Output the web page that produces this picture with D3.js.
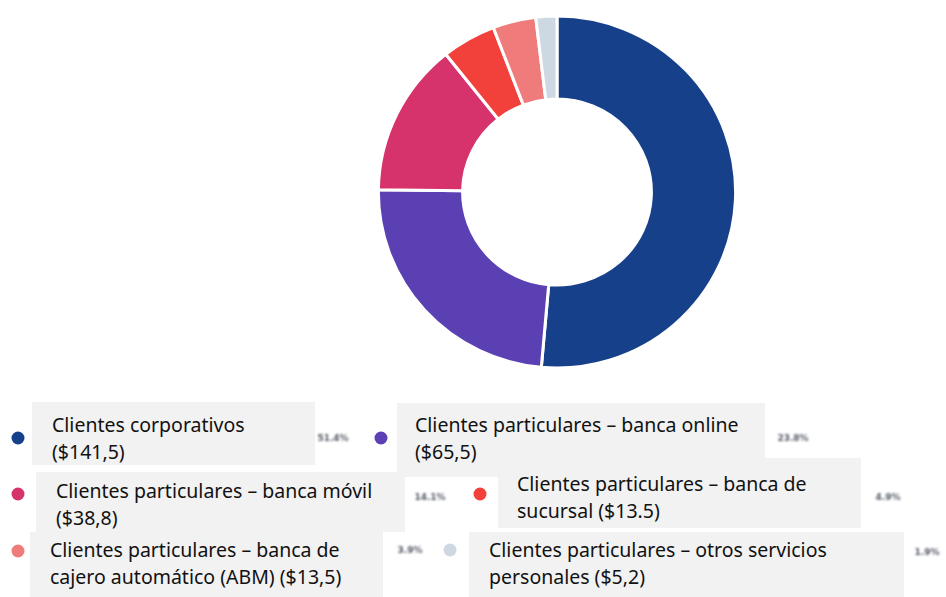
<!DOCTYPE html>
<html>
<head>
<meta charset="utf-8">
<script src="https://cdn.jsdelivr.net/npm/d3@7"></script>
<style>
  html, body { margin: 0; padding: 0; background: #ffffff; }
  svg { display: block; }
</style>
</head>
<body>
<svg id="chart" width="946" height="597"></svg>
<script>
// Revenue by client segment (share of total, %)
const segments = [
  "Clientes corporativos",
  "Clientes particulares – banca online",
  "Clientes particulares – banca móvil",
  "Clientes particulares – banca de sucursal",
  "Clientes particulares – banca de cajero automático (ABM)",
  "Clientes particulares – otros servicios personales"
];
const shares = [51.4, 23.8, 14.1, 4.9, 3.9, 1.9];
const shareLabels = ["51.4%", "23.8%", "14.1%", "4.9%", "3.9%", "1.9%"];

// Legend text, as wrapped in the legend boxes
const legendLines = [
  ["Clientes corporativos", "($141,5)"],
  ["Clientes particulares – banca online", "($65,5)"],
  ["Clientes particulares – banca móvil", "($38,8)"],
  ["Clientes particulares – banca de", "sucursal ($13.5)"],
  ["Clientes particulares – banca de", "cajero automático (ABM) ($13,5)"],
  ["Clientes particulares – otros servicios", "personales ($5,2)"]
];

const colors = ["#16408a", "#5b40b4", "#d6336c", "#f2403a", "#ef7b7b", "#cdd8e2"];

// Legend placement: dot, text box, text start and first baseline, share label
const legendLayout = [
  { dot: [18, 438], box: [32, 402, 283, 63], tx: 52, ty: 432, pct: [333, 438] },
  { dot: [381, 438], box: [397, 403, 368, 74], tx: 415, ty: 432, pct: [793, 438] },
  { dot: [18, 494], box: [36, 472, 369, 60], tx: 56, ty: 498, pct: [430, 497] },
  { dot: [480, 494], box: [498, 458, 363, 70], tx: 517, ty: 491, pct: [888, 497] },
  { dot: [18, 551], box: [30, 532, 353, 65], tx: 50, ty: 557, pct: [410, 550] },
  { dot: [450, 550], box: [469, 532, 435, 65], tx: 489, ty: 557, pct: [927, 552] }
];

const svg = d3.select("#chart");
const defs = svg.append("defs");
defs.append("filter").attr("id", "soft")
  .attr("x", "-20%").attr("y", "-40%").attr("width", "140%").attr("height", "180%")
  .append("feGaussianBlur").attr("stdDeviation", 0.85);
defs.append("filter").attr("id", "softDot")
  .attr("x", "-50%").attr("y", "-50%").attr("width", "200%").attr("height", "200%")
  .append("feGaussianBlur").attr("stdDeviation", 0.7);

// Donut
const cx = 557, cy = 192, outerR = 176, innerR = 93;
const pie = d3.pie().sort(null).value(d => d);
const arc = d3.arc().innerRadius(innerR).outerRadius(outerR);

const donut = svg.append("g")
  .attr("transform", `translate(${cx},${cy}) scale(1.015,1)`);

donut.selectAll("path")
  .data(pie(shares))
  .join("path")
  .attr("d", arc)
  .attr("fill", (d, i) => colors[i])
  .attr("stroke", "#ffffff")
  .attr("stroke-width", 3)
  .attr("stroke-linejoin", "miter");

// Legend
const legend = svg.append("g").attr("class", "legend");
const lineGap = 27;

segments.forEach((name, i) => {
  const L = legendLayout[i];
  const g = legend.append("g").attr("class", "item").attr("aria-label", name);

  const clipId = "clip" + i;
  defs.append("clipPath").attr("id", clipId)
    .append("rect")
    .attr("x", L.box[0]).attr("y", L.box[1])
    .attr("width", L.box[2]).attr("height", L.box[3]);

  g.append("rect")
    .attr("x", L.box[0]).attr("y", L.box[1])
    .attr("width", L.box[2]).attr("height", L.box[3])
    .attr("fill", "#f2f2f2");

  g.append("circle")
    .attr("cx", L.dot[0]).attr("cy", L.dot[1])
    .attr("r", 6.5)
    .attr("fill", colors[i])
    .attr("filter", "url(#softDot)");

  const t = g.append("text")
    .attr("clip-path", `url(#${clipId})`)
    .attr("font-family", "'Noto Sans', 'Open Sans', sans-serif")
    .attr("font-size", 19.5)
    .attr("fill", "#111111");
  legendLines[i].forEach((line, k) => {
    t.append("tspan")
      .attr("x", L.tx)
      .attr("y", L.ty + k * lineGap)
      .text(line);
  });

  g.append("text")
    .attr("x", L.pct[0]).attr("y", L.pct[1])
    .attr("dy", "0.35em")
    .attr("text-anchor", "middle")
    .attr("font-family", "'DejaVu Sans', sans-serif")
    .attr("font-size", 9)
    .attr("font-weight", "bold")
    .attr("fill", "#555b66")
    .attr("filter", "url(#soft)")
    .text(shareLabels[i]);
});
</script>
</body>
</html>
